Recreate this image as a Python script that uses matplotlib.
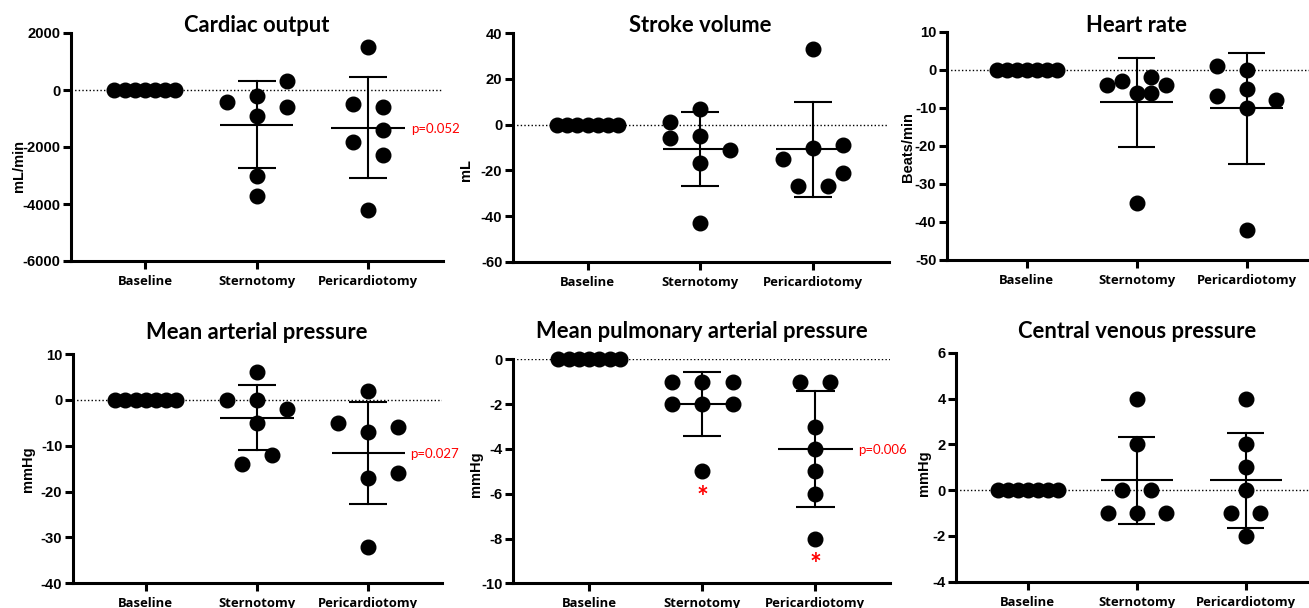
import numpy as np
import matplotlib
matplotlib.use("Agg")
import matplotlib.pyplot as plt
from matplotlib.transforms import blended_transform_factory

plt.rcParams['axes.unicode_minus'] = False

# ---------------- data ----------------
categories = ["Baseline", "Sternotomy", "Pericardiotomy"]
baseline = [0, 0, 0, 0, 0, 0, 0]

co_sternotomy = [316, -200, -410, -610, -900, -3000, -3720]
co_pericardiotomy = [1520, -500, -590, -1400, -1810, -2290, -4210]

sv_sternotomy = [7, 1, -5, -6, -11, -17, -43]
sv_pericardiotomy = [33, -9, -10, -15, -21, -27, -27]

hr_sternotomy = [-2, -3, -4, -4, -6, -6, -35]
hr_pericardiotomy = [1, 0, -5, -7, -8, -10, -42]

map_sternotomy = [6, 0, 0, -2, -5, -12, -14]
map_pericardiotomy = [2, -5, -6, -7, -16, -17, -32]

mpap_sternotomy = [-1, -1, -1, -2, -2, -2, -5]
mpap_pericardiotomy = [-1, -1, -3, -4, -5, -6, -8]

cvp_sternotomy = [4, 2, 0, 0, -1, -1, -1]
cvp_pericardiotomy = [4, 2, 1, 0, -1, -1, -2]

titles = ["Cardiac output", "Stroke volume", "Heart rate",
          "Mean arterial pressure", "Mean pulmonary arterial pressure",
          "Central venous pressure"]
ylabels = ["mL/min", "mL", "Beats/min", "mmHg", "mmHg", "mmHg"]
yticks = [[-6000, -4000, -2000, 0, 2000],
          [-60, -40, -20, 0, 20, 40],
          [-50, -40, -30, -20, -10, 0, 10],
          [-40, -30, -20, -10, 0, 10],
          [-10, -8, -6, -4, -2, 0],
          [-4, -2, 0, 2, 4, 6]]
groups = [[baseline, co_sternotomy, co_pericardiotomy],
          [baseline, sv_sternotomy, sv_pericardiotomy],
          [baseline, hr_sternotomy, hr_pericardiotomy],
          [baseline, map_sternotomy, map_pericardiotomy],
          [baseline, mpap_sternotomy, mpap_pericardiotomy],
          [baseline, cvp_sternotomy, cvp_pericardiotomy]]
# p-value labels: (panel, group, text)
p_labels = [(0, 2, "p=0.052"), (3, 2, "p=0.027"), (4, 2, "p=0.006")]
# significance stars: (panel, group, value the star sits under)
stars = [(4, 1, -5), (4, 2, -8)]

# ---------------- layout (horizontal swarm slots) ----------------
base_slots = [-3, -2, -1, 0, 1, 2, 3]
slots = [
    [base_slots, [2, 0, -2, 2, 0, 0, 0], [0, -1, 1, 1, -1, 1, 0]],
    [base_slots, [0, -2, 0, -2, 2, 0, 0], [0, 2, 0, -2, 2, -1, 1]],
    [base_slots, [1, -1, -2, 2, 0, 1, 0], [-2, 0, 0, -2, 2, 0, 0]],
    [base_slots, [0, -2, 0, 2, 0, 1, -1], [0, -2, 2, 0, 2, 0, 0]],
    [base_slots, [-2, 0, 2, -2, 0, 2, 0], [-1, 1, 0, 0, 0, 0, 0]],
    [base_slots, [0, 0, -1, 1, -2, 0, 2], [0, 0, 0, 0, -1, 1, 0]],
]
# axes boxes in pixels: left, right, top, bottom, xlim
boxes = [
    (70.7, 443.0, 33.0, 261.0, -0.665, 2.669),
    (512.7, 889.0, 33.3, 261.7, -0.667, 2.678),
    (946.7, 1320.0, 31.7, 260.0, -0.727, 2.667),
    (72.7, 441.7, 354.0, 583.3, -0.656, 2.66),
    (513.3, 890.0, 359.3, 583.3, -0.67, 2.66),
    (956.0, 1320.0, 352.7, 581.7, -0.658, 2.68),
]
ylabel_pos = [(19, 166), (466, 170), (908, 147), (28, 469), (476, 474), (924, 473)]
title_base = [31.7, 31.7, 31.7, 339.3, 338.3, 338.3]

W, H = 1309, 608
fig = plt.figure(figsize=(W / 100, H / 100), dpi=100)

SPINE = 2.2
for i in range(6):
    L, R, T, B, xlo, xhi = boxes[i]
    ax = fig.add_axes([L / W, 1 - B / H, (R - L) / W, (B - T) / H])
    ax.set_xlim(xlo, xhi)
    ax.set_ylim(yticks[i][0], yticks[i][-1])
    ax.set_facecolor('none')
    for s in ['top', 'right']:
        ax.spines[s].set_visible(False)
    for s in ['left', 'bottom']:
        ax.spines[s].set_linewidth(SPINE)
    ax.axhline(0, color='black', lw=1.0, ls=(0, (1, 1.6)), zorder=1)

    for gi, vals in enumerate(groups[i]):
        vals = np.asarray(vals, dtype=float)
        step = 0.091 if gi == 0 else 0.134
        xs = gi + np.asarray(slots[i][gi]) * step
        ax.plot(xs, vals, 'o', ms=10.5, color='black', mec='black', zorder=3,
                clip_on=False)
        m = vals.mean()
        sd = vals.std(ddof=1)
        ax.plot([gi - 0.33, gi + 0.33], [m, m], color='black', lw=1.5, zorder=2,
                solid_capstyle='butt')
        if sd > 0:
            ax.plot([gi, gi], [m - sd, m + sd], color='black', lw=1.5, zorder=2)
            for yv in (m - sd, m + sd):
                ax.plot([gi - 0.17, gi + 0.17], [yv, yv], color='black', lw=1.5,
                        zorder=2, solid_capstyle='butt')

    ax.set_xticks(range(3))
    ax.set_xticklabels(categories, fontsize=9.4, fontweight='bold', family='Open Sans')
    ax.set_yticks(yticks[i])
    ax.set_yticklabels([str(t) for t in yticks[i]], fontsize=10.6, fontweight='bold',
                       family='Liberation Sans')
    ax.tick_params(axis='y', width=SPINE, length=6, pad=1.5)
    ax.tick_params(axis='x', width=SPINE, length=6, pad=4)

    xl, yl = ylabel_pos[i]
    fig.text(xl / W, 1 - yl / H, ylabels[i], rotation=90, ha='center', va='center',
             fontsize=10.5, fontweight='bold', family='Liberation Sans')
    # title centred on the middle category
    tr = blended_transform_factory(ax.transData, fig.transFigure)
    ax.text(1, 1 - title_base[i] / H, titles[i], transform=tr, ha='center',
            va='baseline', fontsize=15.8, fontweight='bold', family='Lato',
            clip_on=False)

    for (pi, gi, txt) in p_labels:
        if pi == i:
            m = np.mean(groups[i][gi])
            ax.annotate(txt, xy=(gi + 0.33, m), xytext=(4, -1),
                        textcoords='offset points', ha='left', va='center',
                        color='red', fontsize=9.5, family='Lato', annotation_clip=False)
    for (pi, gi, v) in stars:
        if pi == i:
            ax.annotate("*", xy=(gi, v), xytext=(0, -19), textcoords='offset points',
                        ha='center', va='center', color='red', fontsize=20,
                        fontweight='bold', family='Lato')

fig.savefig("out.png", dpi=100)
